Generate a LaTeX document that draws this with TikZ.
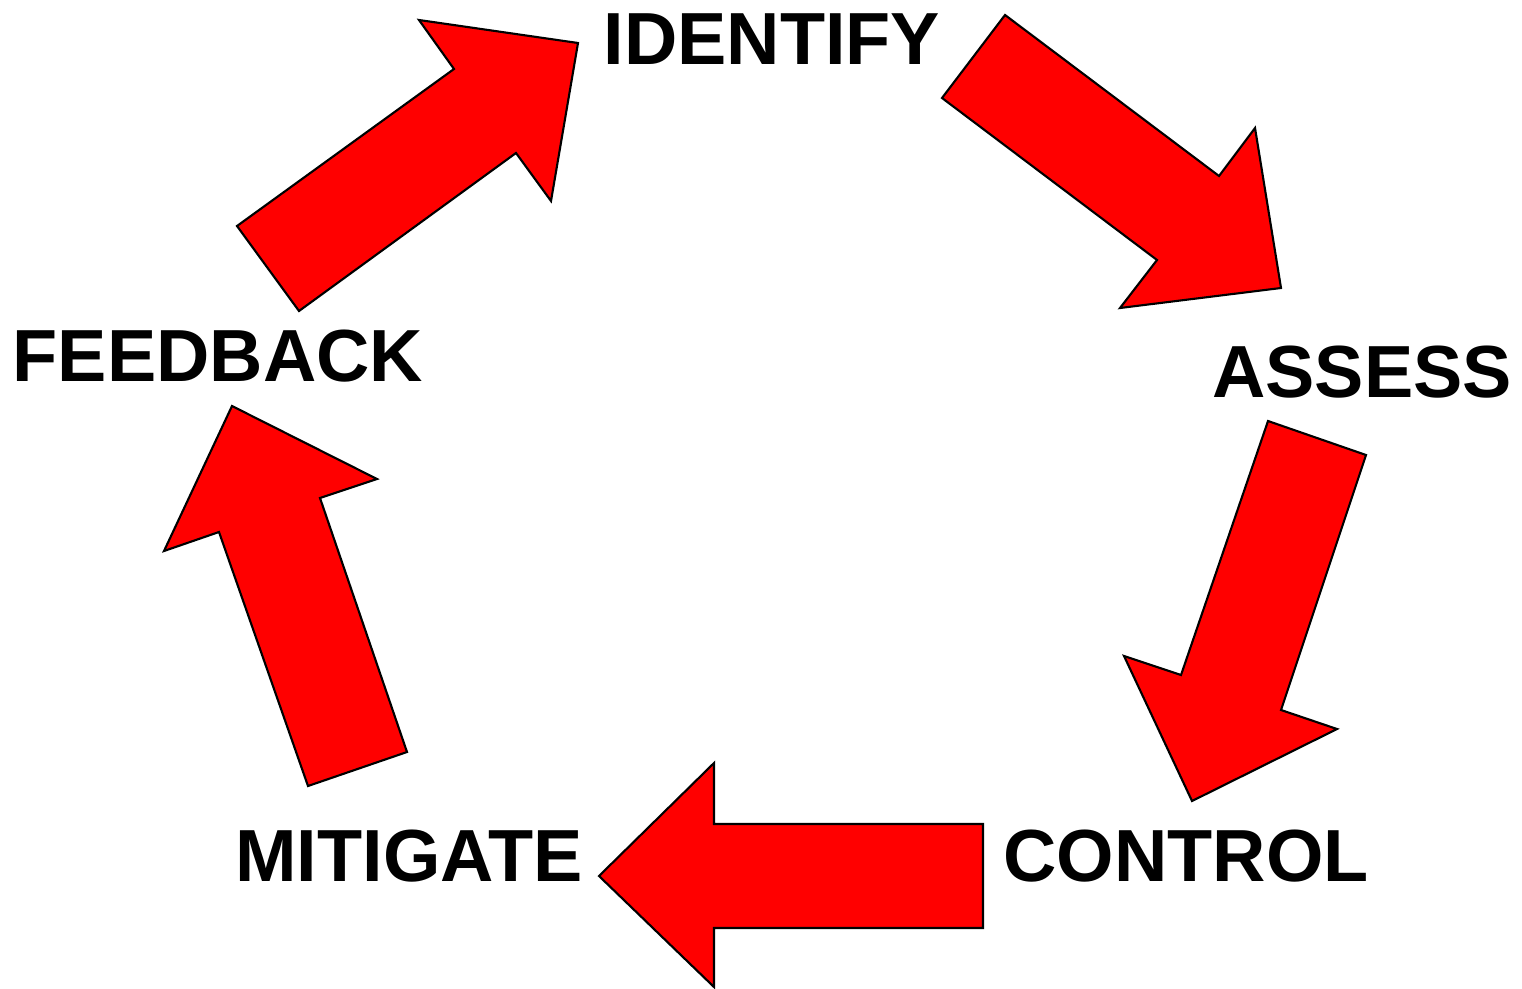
\documentclass[tikz,border=0pt]{standalone}
\usepackage{fontspec}
\setmainfont{Liberation Sans}
\begin{document}
\begin{tikzpicture}[x=0.01cm,y=-0.01cm,
  bigarrow/.style={fill=red,draw=black,line width=0.6pt,line join=miter},
  lbl/.style={font=\fontsize{21}{24}\selectfont\bfseries,inner sep=0pt,anchor=center}]
\useasboundingbox (0,0) rectangle (1522,988);
% arrows
\draw[bigarrow] (237,226) -- (454,69) -- (419,20) -- (578,43) -- (551,201) -- (516,153) -- (299,311) -- cycle;
\draw[bigarrow] (942,98) -- (1005,15) -- (1219,176) -- (1255,128) -- (1281,288) -- (1120,308) -- (1157,260) -- cycle;
\draw[bigarrow] (1268,421) -- (1366,455) -- (1281,710) -- (1337,729) -- (1192,801) -- (1124,656) -- (1181,675) -- cycle;
\draw[bigarrow] (983,824) -- (983,928) -- (714,928) -- (714,987) -- (599,876) -- (714,763) -- (714,824) -- cycle;
\draw[bigarrow] (407,752) -- (308,786) -- (219,532) -- (164,551) -- (232,406) -- (377,479) -- (320,498) -- cycle;
% labels
\node[lbl] (identify) at (772,39) {IDENTIFY};
\node[lbl] (assess) at (1362,372) {ASSESS};
\node[lbl] (feedback) at (218,356) {FEEDBACK};
\node[lbl] (mitigate) at (409,856) {MITIGATE};
\node[lbl] (control) at (1186,856) {CONTROL};
\end{tikzpicture}
\end{document}
